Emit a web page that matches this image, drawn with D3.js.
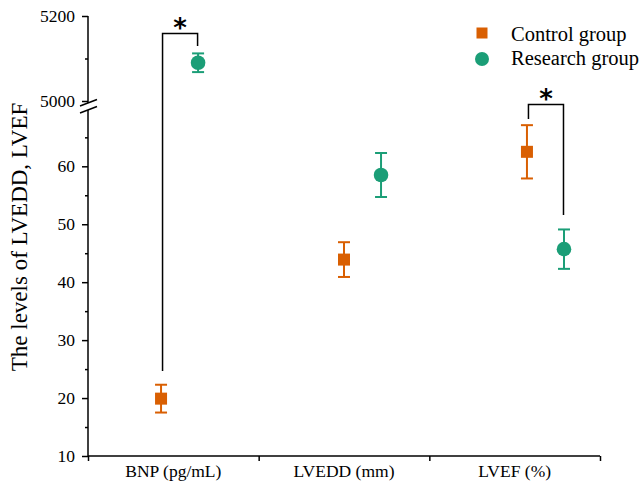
<!DOCTYPE html>
<html>
<head>
<meta charset="utf-8">
<script src="https://cdn.jsdelivr.net/npm/d3@7"></script>
<style>
  body { margin: 0; background: #fff; }
  svg { font-family: "Liberation Serif", "Times New Roman", serif; }
</style>
</head>
<body>
<script>
const categories = ['BNP (pg/mL)', 'LVEDD (mm)', 'LVEF (%)']
const groups = ['Control group', 'Research group']
const controlMean = [19.9, 43.9, 62.5]
const controlSD = [2.4, 3.0, 4.6]
const researchMean = [5090, 58.5, 45.7]
const researchSD = [22, 3.8, 3.4]
const lowTicks = [10, 20, 30, 40, 50, 60]
const highTicks = [5000, 5200]

const colors = ['#d95f02', '#1b9e77']
const width = 641, height = 486
const serif = 'Liberation Serif'

const svg = d3.select('body').append('svg')
  .attr('width', width)
  .attr('height', height)

// x is continuous: 0..3, categories in the middle of each unit
const x = d3.scaleLinear().domain([0, 3]).range([88, 600])
const xControl = i => 0.428 + i * 1.072
const xResearch = i => xControl(i) + 0.217

// broken y axis: low part and high part
const yLow = d3.scaleLinear().domain([10, 60]).range([456, 166.3])
const yHigh = d3.scaleLinear().domain([5000, 5200]).range([101, 16])
const lowTop = 110, highBottom = 103
const yVal = v => v >= 1000 ? yHigh(v) : yLow(v)

const axisG = svg.append('g')

// lower y axis
const gLow = axisG.append('g').attr('transform', 'translate(88,0)')
gLow.call(d3.axisLeft(yLow).tickValues(lowTicks).tickSize(6).tickPadding(7).tickSizeOuter(0))
gLow.append('g').call(d3.axisLeft(yLow).tickValues([15, 25, 35, 45, 55, 65]).tickSize(3).tickFormat(''))
gLow.selectAll('.domain').remove()
gLow.append('line').attr('x1', 0).attr('x2', 0).attr('y1', yLow(10)).attr('y2', lowTop)

// upper y axis
const gHigh = axisG.append('g').attr('transform', 'translate(88,0)')
gHigh.call(d3.axisLeft(yHigh).tickValues(highTicks).tickSize(6).tickPadding(7).tickSizeOuter(0).tickFormat(d3.format('d')))
gHigh.append('g').call(d3.axisLeft(yHigh).tickValues([5100]).tickSize(3).tickFormat(''))
gHigh.selectAll('.domain').remove()
gHigh.append('line').attr('x1', 0).attr('x2', 0).attr('y1', yHigh(5200)).attr('y2', highBottom)

// break marks
axisG.selectAll('.brk').data([highBottom, lowTop]).enter().append('line')
  .attr('class', 'brk')
  .attr('x1', 80).attr('x2', 97)
  .attr('y1', d => d + 3).attr('y2', d => d - 3.5)

// x axis
const gX = axisG.append('g').attr('transform', `translate(0,${yLow(10)})`)
gX.call(d3.axisBottom(x).tickValues([0, 1, 2, 3]).tickSize(5).tickSizeOuter(0).tickFormat(''))
gX.selectAll('.domain').remove()
gX.append('line').attr('x1', x(0)).attr('x2', x(3))
gX.selectAll('.cat').data(categories).enter().append('text')
  .attr('class', 'cat')
  .attr('x', (d, i) => x(i + 0.5))
  .attr('y', 21)
  .attr('text-anchor', 'middle')
  .attr('fill', '#000')
  .text(d => d)

axisG.selectAll('g').attr('font-family', serif).attr('font-size', 17.5)
gX.attr('font-size', 17.5)
axisG.selectAll('line').attr('stroke', '#000').attr('stroke-width', 1.5)
axisG.selectAll('.tick text').attr('fill', '#000')

// y title
svg.append('text')
  .attr('transform', 'translate(27,237) rotate(-90)')
  .attr('text-anchor', 'middle')
  .attr('font-size', 23)
  .text('The levels of LVEDD, LVEF')

// error bars + points
function drawGroup (means, sds, xf, color, shape) {
  const g = svg.append('g')
  const rows = means.map((m, i) => ({ m, sd: sds[i], cx: x(xf(i)) }))
  const eb = g.selectAll('.eb').data(rows).enter().append('g')
  eb.append('line')
    .attr('x1', d => d.cx).attr('x2', d => d.cx)
    .attr('y1', d => yVal(d.m - d.sd)).attr('y2', d => yVal(d.m + d.sd))
  eb.append('line')
    .attr('x1', d => d.cx - 6).attr('x2', d => d.cx + 6)
    .attr('y1', d => yVal(d.m + d.sd)).attr('y2', d => yVal(d.m + d.sd))
  eb.append('line')
    .attr('x1', d => d.cx - 6).attr('x2', d => d.cx + 6)
    .attr('y1', d => yVal(d.m - d.sd)).attr('y2', d => yVal(d.m - d.sd))
  eb.selectAll('line').attr('stroke', color).attr('stroke-width', 2)
  if (shape === 'square') {
    g.selectAll('.pt').data(rows).enter().append('rect')
      .attr('x', d => d.cx - 6).attr('y', d => yVal(d.m) - 6)
      .attr('width', 12).attr('height', 12)
      .attr('fill', color)
  } else {
    g.selectAll('.pt').data(rows).enter().append('circle')
      .attr('cx', d => d.cx).attr('cy', d => yVal(d.m))
      .attr('r', 7.3)
      .attr('fill', color)
  }
}
drawGroup(controlMean, controlSD, xControl, colors[0], 'square')
drawGroup(researchMean, researchSD, xResearch, colors[1], 'circle')

// significance brackets
const brackets = [
  { i: 0, top: 33.5, left: 371, right: 46 },
  { i: 2, top: 104.5, left: 119, right: 215 }
]
brackets.forEach(b => {
  const xl = x(xControl(b.i)) + 1.5, xr = x(xResearch(b.i)) - 0.5
  svg.append('path')
    .attr('d', `M${xl},${b.left}V${b.top}H${xr}V${b.right}`)
    .attr('fill', 'none').attr('stroke', '#000').attr('stroke-width', 1.5)
  svg.append('text')
    .attr('x', (xl + xr) / 2).attr('y', b.top + 3)
    .attr('text-anchor', 'middle')
    .attr('font-family', 'DejaVu Sans')
    .attr('font-weight', 'bold')
    .attr('font-size', 26)
    .text('*')
})

// legend
const leg = svg.append('g').attr('transform', 'translate(482,0)')
leg.append('rect').attr('x', -5.5).attr('y', 27.5).attr('width', 11).attr('height', 11).attr('fill', colors[0])
leg.append('circle').attr('cx', 0).attr('cy', 59).attr('r', 7).attr('fill', colors[1])
leg.selectAll('.lt').data(groups).enter().append('text')
  .attr('x', 29).attr('y', (d, i) => 40.5 + i * 24.5)
  .attr('font-size', 20.5)
  .text(d => d)
</script>
</body>
</html>
